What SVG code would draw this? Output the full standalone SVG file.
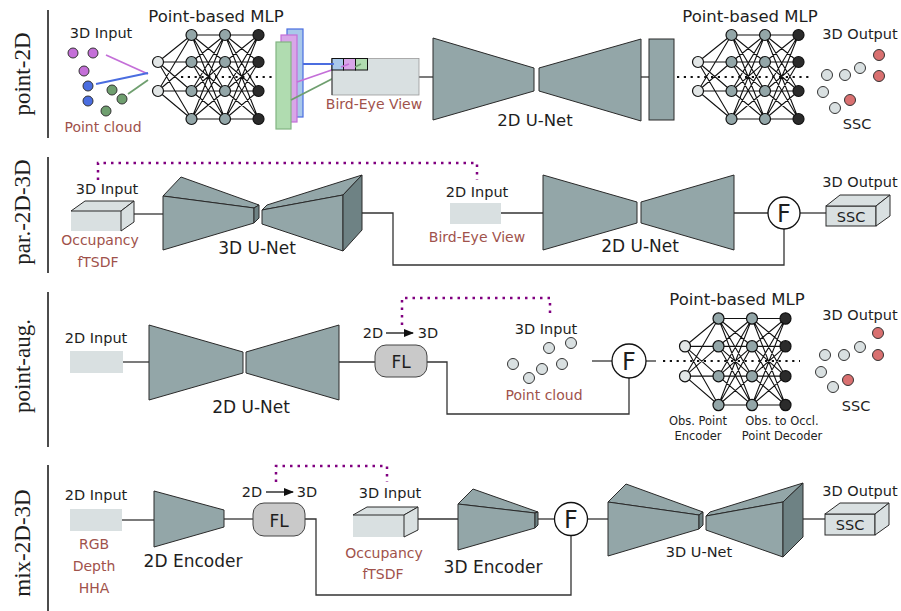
<svg xmlns="http://www.w3.org/2000/svg" xmlns:xlink="http://www.w3.org/1999/xlink" width="901" height="611" viewBox="0 0 901 611">
<style>
text{font-family:"DejaVu Sans","Liberation Sans",sans-serif;fill:#1e1e1e}
.lbl{font-family:"Liberation Serif","DejaVu Serif",serif;font-size:23px;text-anchor:middle}
.t14{font-size:14.5px;text-anchor:middle}
.t16{font-size:16.5px;text-anchor:middle}
.t17{font-size:17px;text-anchor:middle}
.sm{font-size:11.5px;text-anchor:middle}
.br{fill:#a0524b;font-size:14px;text-anchor:middle}
.F{font-size:24px;text-anchor:middle}
.sep{stroke:#111;stroke-width:1.5}
.net{fill:#93a6a8;stroke:#2a2a2a;stroke-width:1}
.dark{fill:#6e8284;stroke:#2a2a2a;stroke-width:1}
.lite{fill:#d9e0e1;stroke:none}
.liteS{fill:#d9e0e1;stroke:#2a2a2a;stroke-width:1}
.con{fill:none;stroke:#333;stroke-width:1.3}
.pur{fill:none;stroke:#800080;stroke-width:2.5;stroke-dasharray:2.5 5}
.dots{fill:none;stroke:#111;stroke-width:2.2;stroke-dasharray:2.2 4.6}
.fuse{fill:#fff;stroke:#111;stroke-width:1.3}
.fl{fill:#c9c9c9;stroke:#444;stroke-width:1}
.pt{stroke:#333;stroke-width:1}
</style>
<defs>
<marker id="ah" markerWidth="10" markerHeight="8" refX="9" refY="4" orient="auto" markerUnits="userSpaceOnUse">
<path d="M0,0L10,4L0,8z" fill="#111"/>
</marker>
<g id="mlpEdges">
<path fill="none" stroke="#111" stroke-width="1.1" d="M0,27L33.5,0M0,27L33.5,27M0,27L33.5,56M0,27L33.5,84M0,56L33.5,0M0,56L33.5,27M0,56L33.5,56M0,56L33.5,84
M33.5,0L67,0M33.5,0L67,27M33.5,0L67,56M33.5,0L67,84M33.5,27L67,0M33.5,27L67,27M33.5,27L67,56M33.5,27L67,84M33.5,56L67,0M33.5,56L67,27M33.5,56L67,56M33.5,56L67,84M33.5,84L67,0M33.5,84L67,27M33.5,84L67,56M33.5,84L67,84
M67,0L100.5,0M67,0L100.5,27M67,0L100.5,56M67,0L100.5,84M67,27L100.5,0M67,27L100.5,27M67,27L100.5,56M67,27L100.5,84M67,56L100.5,0M67,56L100.5,27M67,56L100.5,56M67,56L100.5,84M67,84L100.5,0M67,84L100.5,27M67,84L100.5,56M67,84L100.5,84"/>
</g>
<g id="mlpNodes" stroke="#111" stroke-width="1.2">
<circle cx="0" cy="27" r="5.5" fill="#e2e6e6"/><circle cx="0" cy="56" r="5.5" fill="#e2e6e6"/>
<circle cx="33.5" cy="0" r="5.5" fill="#93a6a8"/><circle cx="33.5" cy="27" r="5.5" fill="#93a6a8"/><circle cx="33.5" cy="56" r="5.5" fill="#93a6a8"/><circle cx="33.5" cy="84" r="5.5" fill="#93a6a8"/>
<circle cx="67" cy="0" r="5.5" fill="#93a6a8"/><circle cx="67" cy="27" r="5.5" fill="#93a6a8"/><circle cx="67" cy="56" r="5.5" fill="#93a6a8"/><circle cx="67" cy="84" r="5.5" fill="#93a6a8"/>
<circle cx="100.5" cy="0" r="5.5" fill="#2b2b2b"/><circle cx="100.5" cy="27" r="5.5" fill="#2b2b2b"/><circle cx="100.5" cy="56" r="5.5" fill="#2b2b2b"/><circle cx="100.5" cy="84" r="5.5" fill="#2b2b2b"/>
</g>
</defs>
<rect width="901" height="611" fill="#fff"/>

<!-- row labels and separators -->
<g id="labels">
<text class="lbl" transform="translate(30,74) rotate(-90)">point-2D</text>
<line class="sep" x1="48" y1="10" x2="48" y2="138"/>
<text class="lbl" transform="translate(30,212) rotate(-90)">par.-2D-3D</text>
<line class="sep" x1="48" y1="157" x2="48" y2="273"/>
<text class="lbl" transform="translate(30,366) rotate(-90)">point-aug.</text>
<line class="sep" x1="48" y1="292" x2="48" y2="447"/>
<text class="lbl" transform="translate(30,543) rotate(-90)">mix-2D-3D</text>
<line class="sep" x1="48" y1="465" x2="48" y2="611"/>
</g>

<!-- connectors -->
<g id="connectors">
<!-- row 1 -->
<line x1="106" y1="55" x2="148" y2="74" stroke="#c46fd8" stroke-width="1.8"/>
<line x1="96" y1="84" x2="148" y2="73" stroke="#4a6de0" stroke-width="1.8"/>
<line x1="128" y1="94" x2="148" y2="80" stroke="#6f9f6f" stroke-width="1.8"/>
<line class="con" x1="419" y1="77" x2="433" y2="77"/>
<line class="con" x1="641" y1="77" x2="649" y2="77"/>
<!-- row 2 -->
<path class="pur" d="M98,180V163H477V180"/>
<line class="con" x1="134" y1="214" x2="163" y2="214"/>
<path class="con" d="M362,213H393V265H784V229"/>
<line class="con" x1="501" y1="213" x2="543" y2="213"/>
<line class="con" x1="734" y1="213" x2="768" y2="213"/>
<line class="con" x1="800" y1="213" x2="826" y2="213"/>
<!-- row 3 -->
<path class="pur" d="M402,325V298H550V313"/>
<line class="con" x1="123" y1="362" x2="149" y2="362"/>
<line class="con" x1="339" y1="362" x2="375" y2="362"/>
<path class="con" d="M427,362H447V414H629V378"/>
<line class="con" x1="592" y1="361" x2="612" y2="361"/>
<line class="con" x1="646" y1="361" x2="656" y2="361"/>
<line x1="386" y1="333" x2="413" y2="333" stroke="#111" stroke-width="1.3" marker-end="url(#ah)"/>
<!-- row 4 -->
<path class="pur" d="M276,482V466H387V482"/>
<line class="con" x1="122" y1="520" x2="154" y2="520"/>
<line class="con" x1="224" y1="519" x2="253" y2="519"/>
<path class="con" d="M305,519H316V595H571V536"/>
<line class="con" x1="418" y1="519" x2="458" y2="519"/>
<line class="con" x1="538" y1="519" x2="554" y2="519"/>
<line class="con" x1="587" y1="519" x2="608" y2="519"/>
<line class="con" x1="803" y1="519" x2="825" y2="519"/>
<line x1="266" y1="492" x2="293" y2="492" stroke="#111" stroke-width="1.3" marker-end="url(#ah)"/>
</g>

<!-- ============ ROW 1 ============ -->
<g id="r1-input">
<text class="t14" x="101" y="38">3D Input</text>
<g class="pt">
<circle cx="73" cy="53" r="5" fill="#c46fd8"/><circle cx="93" cy="53" r="5" fill="#c46fd8"/><circle cx="84" cy="71" r="5" fill="#c46fd8"/>
<circle cx="88" cy="86" r="5" fill="#4a6de0"/><circle cx="88" cy="101" r="5" fill="#4a6de0"/>
<circle cx="112" cy="90" r="5" fill="#6f9f6f"/><circle cx="122" cy="99" r="5" fill="#6f9f6f"/><circle cx="106" cy="111" r="5" fill="#6f9f6f"/>
</g>
<text class="br" x="103" y="132">Point cloud</text>
</g>
<g id="r1-mlp1">
<text class="t16" x="216" y="22">Point-based MLP</text>
<use xlink:href="#mlpEdges" transform="translate(158,35)"/>
<line class="dots" x1="181" y1="77" x2="272" y2="77"/>
<use xlink:href="#mlpNodes" transform="translate(158,35)"/>
</g>
<g id="r1-features">
<rect x="287" y="29" width="16" height="88" fill="#a9c8ea" stroke="#4a6de0" stroke-width="1.2"/>
<rect x="281" y="35" width="16" height="87" fill="#d8a6e8" stroke="#c46fd8" stroke-width="1.2"/>
<rect x="276" y="42" width="15" height="87" fill="#b0dcb0" stroke="#82b482" stroke-width="1.2"/>
<line x1="303" y1="64" x2="334" y2="64" stroke="#4a6de0" stroke-width="1.8"/>
<line x1="297" y1="82" x2="349" y2="64" stroke="#c46fd8" stroke-width="1.8"/>
<line x1="291" y1="100" x2="361" y2="64" stroke="#6f9f6f" stroke-width="1.8"/>
</g>
<g id="r1-bev">
<rect x="332" y="58.5" width="87" height="36.5" fill="#d9e0e1" stroke="#999" stroke-width="0.8"/>
<line x1="332" y1="58.5" x2="332" y2="95" stroke="#333" stroke-width="1"/>
<rect x="332" y="58.5" width="11.5" height="11.5" fill="#a9c8ea" stroke="#111" stroke-width="1"/>
<rect x="343.5" y="58.5" width="12" height="11.5" fill="#d8a6e8" stroke="#111" stroke-width="1"/>
<rect x="355.5" y="58.5" width="12" height="11.5" fill="#b0dcb0" stroke="#111" stroke-width="1"/>
<line x1="303" y1="64" x2="334" y2="64" stroke="#4a6de0" stroke-width="1.8"/>
<line x1="341" y1="67" x2="349" y2="64" stroke="#c46fd8" stroke-width="1.8"/>
<line x1="355" y1="67" x2="361" y2="64" stroke="#6f9f6f" stroke-width="1.8"/>
<text class="br" x="374" y="109">Bird-Eye View</text>
</g>
<g id="r1-unet">
<polygon class="net" points="433,38 534,68 534,91 433,120"/>
<polygon class="net" points="539,68 641,39 641,121 539,91"/>
<text class="t16" x="535" y="126">2D U-Net</text>
</g>
<g id="r1-proj">
<rect class="net" x="649" y="39" width="25" height="81"/>
</g>
<g id="r1-mlp2">
<text class="t16" x="750" y="22">Point-based MLP</text>
<use xlink:href="#mlpEdges" transform="translate(698,35)"/>
<line class="dots" x1="677" y1="77" x2="812" y2="77"/>
<use xlink:href="#mlpNodes" transform="translate(698,35)"/>
</g>
<g id="r1-output">
<text class="t14" x="860" y="39">3D Output</text>
<g class="pt">
<circle cx="827" cy="75" r="5.5" fill="#d9e0e1"/><circle cx="845" cy="75" r="5.5" fill="#d9e0e1"/><circle cx="860" cy="68" r="5.5" fill="#d9e0e1"/>
<circle cx="823" cy="92" r="5.5" fill="#d9e0e1"/><circle cx="835" cy="108" r="5.5" fill="#d9e0e1"/>
<circle cx="879" cy="55" r="5.5" fill="#d97070"/><circle cx="879" cy="76" r="5.5" fill="#d97070"/><circle cx="850" cy="100" r="5.5" fill="#d97070"/>
</g>
<text class="t14" x="857" y="129" font-size="15.5">SSC</text>
</g>

<!-- ============ ROW 2 ============ -->
<g id="r2-input3d">
<text class="t14" x="107" y="194">3D Input</text>
<rect class="lite" x="71" y="211" width="50" height="20"/>
<polygon class="liteS" points="71,211 85,201 134,201 121,211"/>
<polygon class="liteS" points="121,211 134,201 134,222 121,231"/>
<text class="br" x="100" y="245">Occupancy</text>
<text class="br" x="98" y="267">fTSDF</text>
</g>
<g id="r2-unet3d">
<polygon class="net" points="163,196 181,177 259,205 254,208"/>
<polygon class="net" points="163,196 254,208 254,223 163,250"/>
<polygon class="dark" points="254,208 259,205 259,218 254,223"/>
<polygon class="net" points="262,210 267,205 362,175 343,195"/>
<polygon class="net" points="262,210 343,195 343,251 262,224"/>
<polygon class="dark" points="343,195 362,175 362,230 343,251"/>
<text class="t17" x="257" y="254">3D U-Net</text>
</g>
<g id="r2-input2d">
<text class="t14" x="477" y="197">2D Input</text>
<rect class="lite" x="450" y="203" width="51" height="21"/>
<text class="br" x="477" y="242">Bird-Eye View</text>
</g>
<g id="r2-unet2d">
<polygon class="net" points="543,175 637,202 637,223 543,250"/>
<polygon class="net" points="641,202 734,175 734,250 641,223"/>
<text class="t17" x="640" y="252">2D U-Net</text>
</g>
<g id="r2-fuse">
<circle class="fuse" cx="784" cy="213" r="16"/>
<text class="F" x="784" y="222">F</text>
</g>
<g id="r2-output">
<text class="t14" x="860" y="187">3D Output</text>
<rect class="liteS" x="826" y="206" width="50" height="20"/>
<polygon class="liteS" points="826,206 840,195 890,195 876,206"/>
<polygon class="liteS" points="876,206 890,195 890,216 876,226"/>
<text class="t14" x="851" y="222" font-size="15.5">SSC</text>
</g>

<!-- ============ ROW 3 ============ -->
<g id="r3-input2d">
<text class="t14" x="96" y="343">2D Input</text>
<rect class="lite" x="70" y="351" width="53" height="22"/>
</g>
<g id="r3-unet2d">
<polygon class="net" points="149,325 243,352 243,373 149,400"/>
<polygon class="net" points="246,352 339,325 339,400 246,373"/>
<text class="t17" x="251" y="413">2D U-Net</text>
</g>
<g id="r3-fl">
<text class="t14" x="373" y="338">2D</text>
<text class="t14" x="428" y="338">3D</text>
<rect class="fl" x="375" y="345" width="52" height="32" rx="11"/>
<text class="t17" x="401" y="368">FL</text>
</g>
<g id="r3-input3d">
<text class="t14" x="546" y="334">3D Input</text>
<g class="pt">
<circle cx="513" cy="364" r="5.5" fill="#d9e0e1"/><circle cx="529" cy="378" r="5.5" fill="#d9e0e1"/><circle cx="542" cy="369" r="5.5" fill="#d9e0e1"/>
<circle cx="549" cy="348" r="5.5" fill="#d9e0e1"/><circle cx="562" cy="364" r="5.5" fill="#d9e0e1"/><circle cx="571" cy="343" r="5.5" fill="#d9e0e1"/>
</g>
<text class="br" x="544" y="400">Point cloud</text>
</g>
<g id="r3-fuse">
<circle class="fuse" cx="629" cy="361" r="17"/>
<text class="F" x="629" y="370">F</text>
</g>
<g id="r3-mlp">
<text class="t16" x="737" y="305">Point-based MLP</text>
<use xlink:href="#mlpEdges" transform="translate(685,318.5) scale(1,1.03)"/>
<line class="dots" x1="663" y1="361" x2="800" y2="361"/>
<use xlink:href="#mlpNodes" transform="translate(685,318.5) scale(1,1.03)"/>
<text class="sm" x="698" y="425">Obs. Point</text>
<text class="sm" x="698" y="440">Encoder</text>
<text class="sm" x="782" y="425">Obs. to Occl.</text>
<text class="sm" x="782" y="440">Point Decoder</text>
</g>
<g id="r3-output">
<text class="t14" x="860" y="320">3D Output</text>
<g class="pt">
<circle cx="825" cy="355" r="5.5" fill="#d9e0e1"/><circle cx="844" cy="355" r="5.5" fill="#d9e0e1"/><circle cx="860" cy="347" r="5.5" fill="#d9e0e1"/>
<circle cx="821" cy="372" r="5.5" fill="#d9e0e1"/><circle cx="833" cy="387" r="5.5" fill="#d9e0e1"/>
<circle cx="878" cy="333" r="5.5" fill="#d97070"/><circle cx="878" cy="355" r="5.5" fill="#d97070"/><circle cx="848" cy="380" r="5.5" fill="#d97070"/>
</g>
<text class="t14" x="856" y="411" font-size="15.5">SSC</text>
</g>

<!-- ============ ROW 4 ============ -->
<g id="r4-input2d">
<text class="t14" x="96" y="500">2D Input</text>
<rect class="lite" x="70" y="509" width="52" height="22"/>
<text class="br" x="94" y="549">RGB</text>
<text class="br" x="94" y="571">Depth</text>
<text class="br" x="94" y="593">HHA</text>
</g>
<g id="r4-enc2d">
<polygon class="net" points="154,491 224,510 224,527 154,547"/>
<text class="t17" x="193" y="567">2D Encoder</text>
</g>
<g id="r4-fl">
<text class="t14" x="252" y="497">2D</text>
<text class="t14" x="307" y="497">3D</text>
<rect class="fl" x="253" y="503" width="52" height="33" rx="11"/>
<text class="t17" x="279" y="527">FL</text>
</g>
<g id="r4-input3d">
<text class="t14" x="390" y="498">3D Input</text>
<rect class="lite" x="353" y="515" width="51" height="22"/>
<polygon class="liteS" points="353,515 367,507 418,507 404,515"/>
<polygon class="liteS" points="404,515 418,507 418,530 404,537"/>
<text class="br" x="384" y="558">Occupancy</text>
<text class="br" x="383" y="579">fTSDF</text>
</g>
<g id="r4-enc3d">
<polygon class="net" points="458,504 473,489 538,512 535,513"/>
<polygon class="net" points="458,504 535,513 535,528 458,550"/>
<polygon class="dark" points="535,513 538,512 538,525 535,528"/>
<text class="t17" x="493" y="573">3D Encoder</text>
</g>
<g id="r4-fuse">
<circle class="fuse" cx="571" cy="519" r="16.5"/>
<text class="F" x="571" y="528">F</text>
</g>
<g id="r4-unet3d">
<polygon class="net" points="608,502 626,484 703,512 699,515"/>
<polygon class="net" points="608,502 699,515 699,529 608,556"/>
<polygon class="dark" points="699,515 703,512 703,525 699,529"/>
<polygon class="net" points="706,516 710,512 803,483 783,502"/>
<polygon class="net" points="706,516 783,502 783,557 706,530"/>
<polygon class="dark" points="783,502 803,483 803,537 783,557"/>
<text class="t14" x="699" y="557" font-size="15.5">3D U-Net</text>
</g>
<g id="r4-output">
<text class="t14" x="860" y="496">3D Output</text>
<rect class="liteS" x="825" y="514" width="50" height="21"/>
<polygon class="liteS" points="825,514 840,503 889,503 875,514"/>
<polygon class="liteS" points="875,514 889,503 889,525 875,535"/>
<text class="t14" x="850" y="530" font-size="15.5">SSC</text>
</g>
</svg>
